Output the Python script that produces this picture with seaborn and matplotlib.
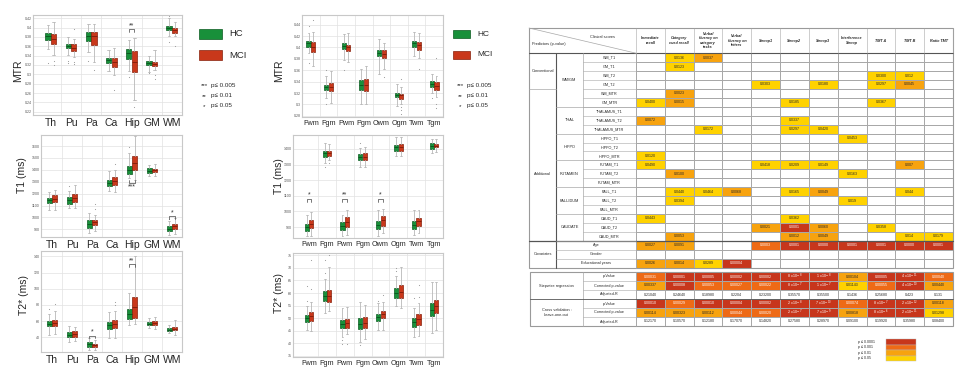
import numpy as np
import matplotlib
matplotlib.use("Agg")
import matplotlib.pyplot as plt
from matplotlib.colors import ListedColormap
from matplotlib.patches import Rectangle
import seaborn as sns

sns.set_theme(style="white")
plt.rcParams['font.family'] = ['Liberation Sans', 'DejaVu Sans']

# ---------------- box plot data: (whislo, q1, median, q3, whishi) ----------------
deep_cats = ["Th", "Pu", "Pa", "Ca", "Hip", "GM", "WM"]
lobe_cats = ["Fwm", "Fgm", "Pwm", "Pgm", "Owm", "Ogm", "Twm", "Tgm"]

mtr_deep_hc = [(0.354, 0.374, 0.381, 0.388, 0.406), (0.341, 0.356, 0.361, 0.366, 0.379),
               (0.347, 0.372, 0.381, 0.390, 0.408), (0.307, 0.325, 0.331, 0.336, 0.352),
               (0.307, 0.332, 0.345, 0.354, 0.374), (0.306, 0.320, 0.325, 0.329, 0.340),
               (0.382, 0.395, 0.400, 0.404, 0.420)]
mtr_deep_hc_out = [[0.325], [0.329, 0.324], [0.329], [], [0.295], [0.302], [0.370, 0.425]]
mtr_deep_mci = [(0.341, 0.364, 0.375, 0.386, 0.411), (0.338, 0.350, 0.357, 0.365, 0.375),
                (0.327, 0.363, 0.381, 0.391, 0.408), (0.299, 0.316, 0.327, 0.336, 0.357),
                (0.246, 0.306, 0.327, 0.349, 0.377), (0.309, 0.318, 0.322, 0.327, 0.352),
                (0.381, 0.388, 0.395, 0.400, 0.411)]
mtr_deep_mci_out = [[0.329, 0.321], [0.396, 0.327, 0.322], [0.309], [0.266], [0.231], [0.299, 0.291], [0.361]]

t1_deep_hc = [(1061, 1122, 1145, 1165, 1215), (1083, 1117, 1145, 1173, 1224), (870, 915, 943, 976, 1041),
              (1224, 1263, 1291, 1313, 1389), (1328, 1364, 1403, 1434, 1544), (1347, 1375, 1392, 1412, 1440),
              (850, 884, 906, 926, 971)]
t1_deep_hc_out = [[], [1263], [], [], [1589], [], [990]]
t1_deep_mci = [(1066, 1131, 1159, 1187, 1235), (1083, 1131, 1167, 1201, 1271), (887, 934, 960, 982, 1024),
               (1215, 1277, 1305, 1336, 1403), (1319, 1398, 1460, 1516, 1684), (1347, 1384, 1398, 1406, 1446),
               (864, 906, 926, 948, 996)]
t1_deep_mci_out = [[], [], [1111, 1075], [1446], [], [], []]

t2_deep_hc = [(42.5, 53.6, 56.9, 59.8, 69.2), (34.2, 40.4, 43.3, 46.6, 53.6), (24.8, 28.1, 31.4, 34.2, 39.2),
              (39.2, 49.9, 54.8, 58.9, 71.3), (54.8, 63.0, 69.2, 75.4, 94.7), (51.9, 54.8, 56.9, 58.9, 64.3),
              (45.4, 47.8, 49.5, 51.5, 54.8)]
t2_deep_hc_out = [[75.4], [], [], [], [], [], []]
t2_deep_mci = [(44.5, 54.0, 58.1, 61.8, 72.5), (35.0, 40.4, 43.7, 47.4, 52.8), (24.0, 28.1, 30.1, 32.2, 37.1),
               (38.8, 51.9, 56.9, 61.8, 72.5), (56.9, 64.3, 77.5, 89.8, 140.0), (50.7, 55.6, 58.1, 60.2, 65.1),
               (42.5, 48.6, 50.7, 52.8, 61.0)]
t2_deep_mci_out = [[80.7], [], [], [83.6, 79.5], [], [], []]

mtr_lobe_hc = [(0.391, 0.401, 0.407, 0.411, 0.426), (0.311, 0.326, 0.330, 0.334, 0.350),
               (0.378, 0.397, 0.402, 0.407, 0.423), (0.301, 0.326, 0.334, 0.343, 0.363),
               (0.353, 0.385, 0.390, 0.395, 0.415), (0.298, 0.313, 0.317, 0.320, 0.336),
               (0.385, 0.401, 0.407, 0.411, 0.428), (0.320, 0.330, 0.336, 0.342, 0.353)]
mtr_lobe_hc_out = [[0.372, 0.438], [0.360, 0.300], [0.360], [], [], [], [], [0.311]]
mtr_lobe_mci = [(0.367, 0.392, 0.401, 0.410, 0.427), (0.303, 0.323, 0.330, 0.337, 0.359),
                (0.375, 0.394, 0.400, 0.405, 0.426), (0.301, 0.323, 0.334, 0.345, 0.367),
                (0.362, 0.381, 0.389, 0.395, 0.408), (0.301, 0.310, 0.316, 0.319, 0.330),
                (0.382, 0.395, 0.404, 0.410, 0.426), (0.313, 0.326, 0.333, 0.340, 0.350)]
mtr_lobe_mci_out = [[0.449], [], [], [], [0.349], [0.345, 0.296, 0.290, 0.284], [0.362], [0.381, 0.301, 0.293]]

t1_lobe_hc = [(840, 872, 900, 921, 979), (1308, 1351, 1372, 1387, 1436), (845, 879, 904, 930, 979),
              (1287, 1326, 1347, 1366, 1404), (845, 889, 915, 940, 1006), (1355, 1389, 1411, 1426, 1474),
              (851, 889, 915, 940, 1006), (1372, 1400, 1419, 1436, 1464)]
t1_lobe_hc_out = [[], [1287], [], [1440], [], [], [], []]
t1_lobe_mci = [(845, 894, 921, 942, 996), (1330, 1357, 1377, 1389, 1432), (851, 900, 930, 962, 1006),
               (1287, 1326, 1351, 1372, 1411), (862, 908, 947, 968, 1015), (1357, 1389, 1415, 1432, 1479),
               (862, 904, 936, 957, 1011), (1383, 1411, 1421, 1432, 1464)]
t1_lobe_mci_out = [[], [1313], [], [], [], [], [], []]

t2_lobe_hc = [(45.5, 48.6, 49.9, 51.3, 54.9), (52.2, 56.9, 58.9, 60.9, 65.5), (42.6, 46.3, 47.9, 49.3, 53.9),
              (40.6, 45.7, 47.9, 49.9, 56.6), (45.5, 49.0, 50.3, 51.7, 55.9), (54.9, 57.9, 59.9, 61.9, 66.9),
              (42.6, 46.6, 48.6, 50.2, 53.9), (44.2, 50.9, 53.3, 55.9, 64.2)]
t2_lobe_hc_out = [[62.6, 56.9], [73.3, 67.9], [41.3, 39.7], [39.3], [56.9], [69.9, 68.6], [57.9], []]
t2_lobe_mci = [(45.0, 49.0, 50.9, 52.6, 56.6), (53.0, 56.6, 58.9, 61.3, 70.3), (43.7, 46.3, 48.2, 49.7, 54.6),
               (41.7, 46.3, 48.3, 50.3, 55.3), (45.5, 49.9, 51.7, 53.0, 56.6), (53.9, 57.9, 60.6, 63.0, 70.3),
               (42.9, 47.3, 49.7, 51.7, 55.9), (45.5, 52.2, 54.9, 57.3, 64.2)]
t2_lobe_mci_out = [[73.3, 61.5], [75.3], [39.9], [], [59.3], [], [63.3, 58.6], []]

# significance marks: (category, level, stars, side)
sig_mtr_deep = [("Hip", 0.396, "**", "above")]
sig_t1_deep = [("Hip", 1290, "***", "below"), ("WM", 1010, "*", "above")]
sig_t2_deep = [("Hip", 130, "**", "above"), ("Pa", 42, "*", "above")]
sig_t1_lobe = [("Fwm", 1080, "*", "above"), ("Pwm", 1080, "**", "above"), ("Owm", 1080, "*", "above")]

# ---------------- table data ----------------
scores = ["Immediate\nrecall", "Category\ncued recall", "Verbal\nfluency on\ncategory\ntasks",
          "Verbal\nfluency on\nletters", "Stroop1", "Stroop2", "Stroop3", "Interference\nStroop",
          "TMT A", "TMT B", "Ratio TMT"]
predictors = ["WM_T1", "GM_T1", "WM_T2", "GM_T2", "WM_MTR", "GM_MTR",
              "THALAMUS_T1", "THALAMUS_T2", "THALAMUS_MTR", "HIPPO_T1", "HIPPO_T2", "HIPPO_MTR",
              "PUTAM_T1", "PUTAM_T2", "PUTAM_MTR", "PALL_T1", "PALL_T2", "PALL_MTR",
              "CAUD_T1", "CAUD_T2", "CAUD_MTR", "Age", "Gender", "Educational years"]
pvals = [
    ["", "0.0136", "0.0037", "", "", "", "", "", "", "", ""],
    ["", "0.0123", "", "", "", "", "", "", "", "", ""],
    ["", "", "", "", "", "", "", "", "0.0300", "0.012", ""],
    ["", "", "", "", "0.0303", "", "0.0180", "", "0.0297", "0.0045", ""],
    ["", "0.0023", "", "", "", "", "", "", "", "", ""],
    ["0.0400", "0.0015", "", "", "", "0.0185", "", "", "0.0367", "", ""],
    ["", "", "", "", "", "", "", "", "", "", ""],
    ["0.0072", "", "", "", "", "0.0337", "", "", "", "", ""],
    ["", "", "0.0172", "", "", "0.0297", "0.0420", "", "", "", ""],
    ["", "", "", "", "", "", "", "0.0453", "", "", ""],
    ["", "", "", "", "", "", "", "", "", "", ""],
    ["0.0120", "", "", "", "", "", "", "", "", "", ""],
    ["0.0490", "", "", "", "0.0418", "0.0209", "0.0149", "", "", "0.007", ""],
    ["", "0.0100", "", "", "", "", "", "0.0163", "", "", ""],
    ["", "", "", "", "", "", "", "", "", "", ""],
    ["", "0.0440", "0.0464", "0.0068", "", "0.0165", "0.0049", "", "", "0.044", ""],
    ["", "0.0394", "", "", "", "", "", "0.019", "", "", ""],
    ["", "", "", "", "", "", "", "", "", "", ""],
    ["0.0443", "", "", "", "", "0.0362", "", "", "", "", ""],
    ["", "", "", "", "0.0021", "0.0001", "0.0060", "", "0.0358", "", ""],
    ["", "0.0053", "", "", "", "0.0012", "0.0049", "", "", "0.014", "0.0179"],
    ["0.0027", "0.0091", "", "", "0.0003", "0.0001", "0.0000", "0.0001", "0.0001", "0.0000", "0.0001"],
    ["", "", "", "", "", "", "", "", "", "", ""],
    ["0.0026", "0.0014", "0.0289", "0.00004", "", "", "", "", "", "", ""],
]
step_p = ["0.00031", "0.00001", "0.00005", "0.00002", "0.00002", "8e-8", "1e-8", "0.00104", "0.00005", "4e-11", "0.00040"]
step_corr = ["0.00337", "0.00008", "0.00053", "0.00027", "0.00022", "8e-7", "1e-7", "0.01143", "0.00055", "4e-10", "0.00440"]
step_r = ["0.21040", "0.24640", "0.18980", "0.2204", "0.23200", "0.35570", "0.35500", "0.1436", "0.25680", "0.423", "0.131"]
cv_p = ["0.00010", "0.00029", "0.00010", "0.00004", "0.00002", "2e-8", "7e-10", "0.00074", "8e-7", "2e-12", "0.00118"]
cv_corr = ["0.00114", "0.00323", "0.00112", "0.00044", "0.00020", "2e-7", "7e-9", "0.00818", "8e-6", "2e-11", "0.01298"]
cv_r = ["0.12170", "0.10570", "0.12180", "0.17070", "0.14820", "0.27580", "0.28970", "0.09100", "0.19920", "0.35980", "0.08400"]
p_legend = ["p ≤ 0.0001", "p ≤ 0.001", "p ≤ 0.01", "p ≤ 0.05"]

HC_COL, HC_EDGE = "#18903a", "#0b5a20"
MCI_COL, MCI_EDGE = "#c9381b", "#86200c"
P_COLORS = ["#ffffff", "#ffd200", "#f7a30f", "#ee6a16", "#c7361c"]

W, H = 960, 382
fig = plt.figure(figsize=(9.6, 3.82), dpi=100)
fig.patch.set_facecolor("white")


def px_axes(x0, y0, x1, y1):
    return fig.add_axes([x0 / W, 1 - y1 / H, (x1 - x0) / W, (y1 - y0) / H])


def box_stats(rows, outs):
    return [dict(whislo=r[0], q1=r[1], med=r[2], q3=r[3], whishi=r[4], fliers=o) for r, o in zip(rows, outs)]


def box_panel(ax, cats, hc, hc_out, mci, mci_out, ylim, yticks, xlim, off, wid, fs, sigs=()):
    pos = np.arange(len(cats))
    for st, out, shift, face, edge in [(hc, hc_out, -off, HC_COL, HC_EDGE),
                                       (mci, mci_out, off, MCI_COL, MCI_EDGE)]:
        ax.bxp(box_stats(st, out), positions=pos + shift, widths=wid, patch_artist=True,
               capwidths=wid * 0.45, manage_ticks=False,
               boxprops=dict(facecolor=face, edgecolor=edge, lw=0.5),
               medianprops=dict(color=edge, lw=0.7),
               whiskerprops=dict(color="#b8b8b8", lw=0.6),
               capprops=dict(color="#b8b8b8", lw=0.6),
               flierprops=dict(marker=".", markersize=1.6, markerfacecolor="#9a9a9a",
                               markeredgecolor="none"))
    ax.set_xlim(*xlim)
    ax.set_ylim(*ylim)
    ax.set_xticks(pos)
    ax.set_xticklabels(cats, fontsize=fs)
    ax.set_xticks(pos[:-1] + 0.5, minor=True)
    ax.set_yticks(yticks)
    ax.set_yticklabels([f"{t:g}" for t in yticks], fontsize=2.6, color="#555555")
    ax.tick_params(which="both", length=0, pad=1)
    ax.tick_params(axis="x", pad=2)
    ax.grid(which="minor", axis="x", color="#e2e2e2", lw=0.5)
    ax.grid(which="major", axis="y", color="#e2e2e2", lw=0.5)
    ax.grid(which="major", axis="x", visible=False)
    for sp in ax.spines.values():
        sp.set_color("#c8c8c8")
        sp.set_linewidth(0.8)
    span = ylim[1] - ylim[0]
    for cat, lev, stars, side in sigs:
        i = cats.index(cat)
        d = -0.025 * span if side == "above" else 0.025 * span
        ax.plot([i - off, i - off, i + off, i + off], [lev + d, lev, lev, lev + d], color="#444444", lw=0.5)
        ty = lev - 1.4 * d
        ax.text(i, ty, stars, ha="center", va="center", fontsize=5, color="#333333")


# left block: deep grey matter
ax = px_axes(33, 15, 182, 115)
box_panel(ax, deep_cats, mtr_deep_hc, mtr_deep_hc_out, mtr_deep_mci, mtr_deep_mci_out,
          (0.213, 0.427), np.round(np.arange(0.22, 0.4201, 0.02), 2), (-0.88, 6.5), 0.14, 0.26, 7.5,
          sig_mtr_deep)
ax = px_axes(41, 135, 182, 237)
box_panel(ax, deep_cats, t1_deep_hc, t1_deep_hc_out, t1_deep_mci, t1_deep_mci_out,
          (836, 1693), np.arange(900, 1601, 100), (-0.55, 6.5), 0.14, 0.26, 7.5, sig_t1_deep)
ax = px_axes(41, 251, 182, 352)
box_panel(ax, deep_cats, t2_deep_hc, t2_deep_hc_out, t2_deep_mci, t2_deep_mci_out,
          (21.9, 146.6), np.arange(40, 141, 20), (-0.55, 6.5), 0.14, 0.26, 7.5, sig_t2_deep)

# middle block: lobar WM / GM
ax = px_axes(302, 15, 443, 117)
box_panel(ax, lobe_cats, mtr_lobe_hc, mtr_lobe_hc_out, mtr_lobe_mci, mtr_lobe_mci_out,
          (0.278, 0.457), np.round(np.arange(0.28, 0.4401, 0.02), 2), (-0.5, 7.5), 0.13, 0.23, 5.2)
ax = px_axes(293, 135, 443, 238)
box_panel(ax, lobe_cats, t1_lobe_hc, t1_lobe_hc_out, t1_lobe_mci, t1_lobe_mci_out,
          (830, 1489), np.arange(900, 1401, 100), (-0.9, 7.5), 0.13, 0.23, 5.2, sig_t1_lobe)
ax = px_axes(293, 253, 443, 357)
box_panel(ax, lobe_cats, t2_lobe_hc, t2_lobe_hc_out, t2_lobe_mci, t2_lobe_mci_out,
          (34.6, 75.9), np.arange(35, 76, 5), (-0.9, 7.5), 0.13, 0.23, 5.2)


# ---------------- table (seaborn heatmap) ----------------
def p_level(s):
    if s == "":
        return 0
    v = float(s)
    if v <= 1e-4:
        return 4
    if v <= 1e-3:
        return 3
    if v <= 1e-2:
        return 2
    if v <= 0.05:
        return 1
    return 0


def p_text(s):
    if "e" in s:
        m, e = s.split("e")
        return m + " x 10$^{" + e + "}$"
    return s


cmap = ListedColormap(P_COLORS)
X0, X1 = 636, 953
ROW0, ROWH = 53.2, 8.93
main_lev = np.array([[p_level(s) for s in r] for r in pvals])
main_txt = np.array([[p_text(s) for s in r] for r in pvals])
tab = px_axes(X0, ROW0, X1, ROW0 + ROWH * len(predictors))
sns.heatmap(main_lev, ax=tab, cmap=cmap, vmin=-0.5, vmax=4.5, annot=main_txt, fmt="", cbar=False,
            linewidths=0.4, linecolor="#a8a8a8", xticklabels=False, yticklabels=False,
            annot_kws={"fontsize": 2.6})

low_rows = [step_p, step_corr, step_r, cv_p, cv_corr, cv_r]
low_lev = np.array([[0 if k in (2, 5) else p_level(s) for s in r] for k, r in enumerate(low_rows)])
low_txt = np.array([[p_text(s) for s in r] for r in low_rows])
LOW0, LOWH = 272, 9.0
tab2 = px_axes(X0, LOW0, X1, LOW0 + LOWH * 6)
sns.heatmap(low_lev, ax=tab2, cmap=cmap, vmin=-0.5, vmax=4.5, annot=low_txt, fmt="", cbar=False,
            linewidths=0.4, linecolor="#a8a8a8", xticklabels=False, yticklabels=False,
            annot_kws={"fontsize": 2.6})

# overlay in pixel coordinates for legends, labels and table frame
ov = px_axes(0, 0, W, H)
ov.set_xlim(0, W)
ov.set_ylim(H, 0)
ov.axis("off")
ov.set_zorder(10)

# y labels
for x, y, t in [(18, 71, "MTR"), (22, 175, "T1 (ms)"), (24, 295, "T2* (ms)"),
                (279, 71, "MTR"), (279, 176, "T1 (ms)"), (279, 293, "T2* (ms)")]:
    ov.text(x, y, t, rotation=90, ha="center", va="center", fontsize=7.5)

# group legends
for (rx, ry, rw, rh, tx, fs) in [(199, 29, 23, 10, 229, 6.8), (453, 30, 17, 8, 477, 6)]:
    ov.add_patch(Rectangle((rx, ry), rw, rh, facecolor=HC_COL, edgecolor=HC_EDGE, lw=0.5))
    ov.text(tx, ry + rh / 2, "HC", va="center", fontsize=fs)
    ov.add_patch(Rectangle((rx, ry + 21), rw, rh, facecolor=MCI_COL, edgecolor=MCI_EDGE, lw=0.5))
    ov.text(tx, ry + 21 + rh / 2, "MCI", va="center", fontsize=fs)
for sx in (200, 456):
    for k, (st, lab) in enumerate([("***", "p≤ 0.005"), ("**", "p≤ 0.01"), ("*", "p≤ 0.05")]):
        ov.text(sx + 4, 86 + k * 10.5, st, ha="center", va="center", fontsize=4.5)
        ov.text(sx + 11, 85 + k * 10.5, lab, ha="left", va="center", fontsize=4.5)

# main table frame and labels
GRID = "#a8a8a8"
DARK = "#555555"
col_w = (X1 - X0) / len(scores)
TOP = 28
BOT = ROW0 + ROWH * len(predictors)
ov.add_patch(Rectangle((529, TOP), X1 - 529, BOT - TOP, fill=False, edgecolor="#9a9a9a", lw=0.8))
ov.plot([529, X1], [ROW0, ROW0], color=DARK, lw=0.8)
ov.plot([529, X0], [TOP, ROW0], color=GRID, lw=0.5)
for k in range(len(scores) + 1):
    ov.plot([X0 + k * col_w] * 2, [TOP, ROW0], color=GRID, lw=0.4)
for k, s in enumerate(scores):
    ov.text(X0 + (k + 0.5) * col_w, (TOP + ROW0) / 2, s, ha="center", va="center", fontsize=2.7,
            style="italic", weight="bold", linespacing=1.1)
ov.text(532, 44, "Predictors (p-value)", fontsize=2.8, va="center")
ov.text(603, 37, "Clinical scores", fontsize=2.8, ha="center", va="center")


def ry(i):
    return ROW0 + i * ROWH


ov.plot([556, 556], [ROW0, BOT], color=DARK, lw=0.8)
ov.plot([583, 583], [ROW0, ry(21)], color=GRID, lw=0.5)
ov.plot([X0, X0], [ROW0, BOT], color=GRID, lw=0.5)
ov.plot([529, 556], [ry(4), ry(4)], color=GRID, lw=0.5)
ov.plot([529, X1], [ry(21), ry(21)], color=DARK, lw=0.9)
for i in (6, 9, 12, 15, 18):
    ov.plot([556, X0], [ry(i), ry(i)], color=GRID, lw=0.5)
for i in range(1, len(predictors)):
    ov.plot([583 if i < 21 else 556, X0], [ry(i), ry(i)], color=GRID, lw=0.4)
for i, p in enumerate(predictors):
    ov.text(609.5 if i < 21 else 596, ry(i + 0.5), p, ha="center", va="center", fontsize=2.7)
for t, i0, i1 in [("Conventional", 0, 4), ("Additional", 7, 20), ("Covariates", 21, 24)]:
    ov.text(542.5, ry((i0 + i1) / 2), t, ha="center", va="center", fontsize=2.8)
for t, i0, i1 in [("WM/GM", 0, 6), ("THAL", 6, 9), ("HIPPO", 9, 12), ("PUTAMEN", 12, 15),
                  ("PALLIDUM", 15, 18), ("CAUDATE", 18, 21)]:
    ov.text(569.5, ry((i0 + i1) / 2), t, ha="center", va="center", fontsize=2.8)

# lower table frame and labels
LBOT = LOW0 + 6 * LOWH
ov.add_patch(Rectangle((530, LOW0), X1 - 530, LBOT - LOW0, fill=False, edgecolor="#9a9a9a", lw=0.8))
ov.plot([583, 583], [LOW0, LBOT], color=GRID, lw=0.5)
ov.plot([X0, X0], [LOW0, LBOT], color=GRID, lw=0.5)
ov.plot([530, X1], [LOW0 + 3 * LOWH] * 2, color=DARK, lw=0.6)
low_labels = ["p-Value", "Corrected p-value", "Adjusted-R"] * 2
for k, t in enumerate(low_labels):
    if k not in (0, 3):
        ov.plot([583, X0], [LOW0 + k * LOWH] * 2, color=GRID, lw=0.4)
    ov.text(609.5, LOW0 + (k + 0.5) * LOWH, t, ha="center", va="center", fontsize=2.7)
ov.text(556.5, LOW0 + 1.5 * LOWH, "Stepwise regression", ha="center", va="center", fontsize=2.8)
ov.text(556.5, LOW0 + 4.5 * LOWH, "Cross validation :\nLeave-one-out", ha="center", va="center",
        fontsize=2.8, linespacing=1.2)

# p-value colour legend
for k, lab in enumerate(p_legend):
    y = 339 + k * 5.5
    ov.add_patch(Rectangle((886, y), 30, 5.5, facecolor=P_COLORS[4 - k], edgecolor="#bbbbbb", lw=0.3))
    ov.text(858, y + 2.75, lab, va="center", fontsize=2.6)

fig.savefig("out.png", dpi=100, facecolor="white")
